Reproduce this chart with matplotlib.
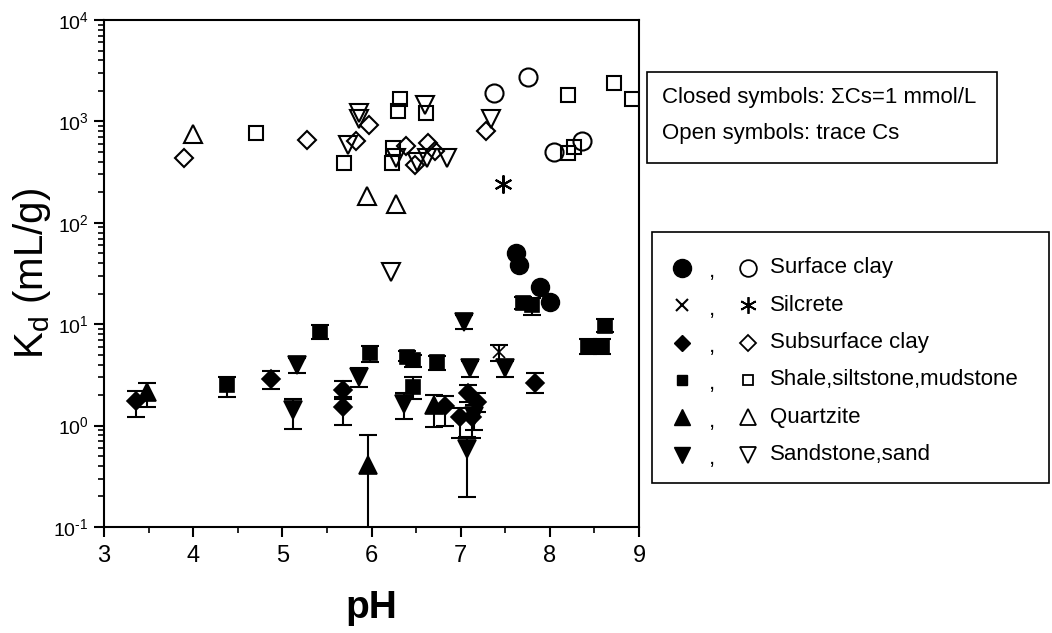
import matplotlib
matplotlib.use('Agg')
import numpy as np
import matplotlib.pyplot as plt
from matplotlib.ticker import LogLocator, FuncFormatter, MultipleLocator, NullFormatter
from matplotlib.patches import Rectangle

plt.rcParams['font.family'] = ['Liberation Sans', 'DejaVu Sans']
plt.rcParams['mathtext.default'] = 'regular'
plt.rcParams['axes.unicode_minus'] = False

# ---------------- data (pH, Kd, lower, upper) ----------------
# closed symbols: sum Cs = 1 mmol/L
surf_c_x = [7.62, 7.65, 7.89, 8.00]
surf_c_y = [50, 38, 23.5, 16.5]

silc_c_x = [7.43]
silc_c_y = [5.3]
silc_c_lo = [4.3]
silc_c_hi = [6.3]

subs_c_x = [3.36, 4.87, 5.68, 5.68, 6.82, 7.08, 7.18, 6.99, 7.13, 7.83]
subs_c_y = [1.75, 2.88, 2.24, 1.52, 1.55, 2.10, 1.70, 1.22, 1.22, 2.65]
subs_c_lo = [1.22, 2.30, 1.85, 1.01, 1.00, 1.70, 1.35, 0.75, 0.75, 2.10]
subs_c_hi = [2.19, 3.43, 2.75, 1.90, 1.95, 2.50, 2.10, 1.50, 1.50, 3.30]

shale_c_x = [4.38, 5.42, 5.98, 6.40, 6.46, 6.47, 6.73, 7.70, 7.80, 8.43, 8.59, 8.62]
shale_c_y = [2.51, 8.4, 5.2, 4.8, 4.4, 2.40, 4.24, 16.2, 15.5, 6.1, 6.1, 9.6]
shale_c_lo = [1.91, 7.1, 4.24, 4.3, 3.8, 1.83, 3.5, 14.0, 12.3, 5.1, 5.1, 8.3]
shale_c_hi = [3.01, 9.8, 6.06, 5.4, 5.0, 3.0, 4.9, 18.6, 18.0, 7.2, 7.2, 11.3]

quartz_c_x = [3.48, 5.96, 6.70]
quartz_c_y = [2.14, 0.41, 1.60]
quartz_c_lo = [1.52, 0.01, 0.97]
quartz_c_hi = [2.63, 0.81, 2.00]

sand_c_x = [5.16, 5.12, 5.86, 6.36, 7.04, 7.10, 7.50, 7.07, 7.15]
sand_c_y = [3.96, 1.43, 3.02, 1.63, 10.5, 3.70, 3.70, 0.59, 1.25]
sand_c_lo = [3.30, 0.925, 2.40, 1.16, 8.9, 3.02, 3.02, 0.198, 0.90]
sand_c_hi = [4.64, 1.83, 3.70, 2.10, 12.3, 4.34, 4.34, 0.78, 1.60]

# open symbols: trace Cs
surf_o_x = [7.37, 7.76, 8.05, 8.36]
surf_o_y = [1900, 2750, 500, 640]

silc_o_x = [7.47]
silc_o_y = [240]

subs_o_x = [3.90, 5.28, 5.97, 5.83, 6.39, 6.63, 6.71, 6.49, 7.28]
subs_o_y = [440, 660, 920, 640, 570, 610, 510, 372, 800]

shale_o_x = [4.70, 5.69, 6.24, 6.23, 6.32, 6.30, 6.61, 8.20, 8.72, 8.92, 8.20, 8.27]
shale_o_y = [770, 390, 547, 390, 1660, 1270, 1210, 1820, 2390, 1660, 487, 560]

quartz_o_x = [4.00, 5.95, 6.27]
quartz_o_y = [750, 184, 153]

sand_o_x = [5.86, 5.86, 5.74, 6.60, 7.34, 6.28, 6.51, 6.62, 6.85, 6.22]
sand_o_y = [1210, 1057, 585, 1450, 1057, 435, 398, 435, 435, 33]

legend_labels = ['Surface clay', 'Silcrete', 'Subsurface clay',
                 'Shale,siltstone,mudstone', 'Quartzite', 'Sandstone,sand']
note_lines = ['Closed symbols: \u03a3Cs=1 mmol/L', 'Open symbols: trace Cs']

# ---------------- figure ----------------
W, H = 1052, 633
fig = plt.figure(figsize=(W / 100, H / 100), dpi=100)
ax = fig.add_axes([104 / W, 1 - 527 / H, (639 - 104) / W, (527 - 20) / H])

ASTER = (6, 2, 0)
styles = {
    'surf': dict(marker='o', ms=13),
    'silc_c': dict(marker='x', ms=9),
    'silc_o': dict(marker=ASTER, ms=13),
    'subs': dict(marker='D', ms=9.5),
    'shale': dict(marker='s', ms=9.5),
    'quartz': dict(marker='^', ms=13),
    'sand': dict(marker='v', ms=13),
}

def closed_eb(x, y, lo, hi, st):
    y = np.array(y); lo = np.array(lo); hi = np.array(hi)
    ax.errorbar(x, y, yerr=[y - lo, hi - y], fmt='none', ecolor='black',
                elinewidth=1.5, capsize=6.5, capthick=1.5, zorder=2)
    ax.plot(x, y, ls='none', color='black', mfc='black', mec='black',
            mew=1.2, zorder=3, **st)

def open_pts(x, y, st):
    ax.plot(x, y, ls='none', mfc='none', mec='black', mew=1.5, zorder=4, **st)

ax.plot(surf_c_x, surf_c_y, ls='none', mfc='black', mec='black', zorder=3, **styles['surf'])
closed_eb(silc_c_x, silc_c_y, silc_c_lo, silc_c_hi, styles['silc_c'])
closed_eb(subs_c_x, subs_c_y, subs_c_lo, subs_c_hi, styles['subs'])
closed_eb(shale_c_x, shale_c_y, shale_c_lo, shale_c_hi, styles['shale'])
closed_eb(quartz_c_x, quartz_c_y, quartz_c_lo, quartz_c_hi, styles['quartz'])
closed_eb(sand_c_x, sand_c_y, sand_c_lo, sand_c_hi, styles['sand'])

open_pts(surf_o_x, surf_o_y, styles['surf'])
open_pts(silc_o_x, silc_o_y, styles['silc_o'])
open_pts(subs_o_x, subs_o_y, styles['subs'])
open_pts(shale_o_x, shale_o_y, styles['shale'])
open_pts(quartz_o_x, quartz_o_y, styles['quartz'])
open_pts(sand_o_x, sand_o_y, styles['sand'])

ax.set_xlim(3, 9)
ax.set_yscale('log')
ax.set_ylim(0.1, 1e4)
ax.xaxis.set_major_locator(MultipleLocator(1))
ax.xaxis.set_minor_locator(MultipleLocator(0.5))
ax.yaxis.set_major_locator(LogLocator(base=10, numticks=10))
ax.yaxis.set_minor_locator(LogLocator(base=10, subs=np.arange(2, 10), numticks=20))
ax.yaxis.set_minor_formatter(NullFormatter())

def exp_fmt(v, p):
    e = int(round(np.log10(v)))
    s = str(e).replace('-', '\u2010')
    return r'$10^{%s}$' % s

ax.yaxis.set_major_formatter(FuncFormatter(exp_fmt))
ax.tick_params(axis='both', which='major', direction='out', length=7, width=1.5)
ax.tick_params(axis='both', which='minor', direction='out', length=4, width=1.2)
ax.tick_params(axis='x', labelsize=17, pad=6)
ax.tick_params(axis='y', labelsize=14, pad=4)
for s in ax.spines.values():
    s.set_linewidth(1.5)

ax.set_xlabel('pH', fontsize=28, fontweight='bold')
ax.xaxis.set_label_coords(0.5, -0.125)
ax.set_ylabel(r'K$_{d}$ (mL/g)', fontsize=29)
ax.yaxis.set_label_coords(-0.095, 0.5)

# ---------------- legend boxes (pixel overlay) ----------------
lax = fig.add_axes([0, 0, 1, 1])
lax.set_xlim(0, W)
lax.set_ylim(H, 0)
lax.axis('off')

lax.add_patch(Rectangle((647, 72), 350, 91, fill=False, lw=1.2, ec='black'))
for i, t in enumerate(note_lines):
    lax.text(662, 98 + 35 * i, t, fontsize=16, va='center', ha='left')

lax.add_patch(Rectangle((652, 232), 397, 251, fill=False, lw=1.2, ec='black'))
closed_leg = [dict(marker='o', ms=13), dict(marker='x', ms=8, mew=1.5),
              dict(marker='D', ms=8), dict(marker='s', ms=7.5),
              dict(marker='^', ms=12), dict(marker='v', ms=12)]
open_leg = [dict(marker='o', ms=12), dict(marker=ASTER, ms=12),
            dict(marker='D', ms=8), dict(marker='s', ms=7.5),
            dict(marker='^', ms=12), dict(marker='v', ms=12)]
for i, lab in enumerate(legend_labels):
    yy = 268 + 37.3 * i
    lax.plot([682], [yy], ls='none', mfc='black', mec='black', **closed_leg[i])
    lax.text(712, yy + 4, ',', fontsize=16, va='center', ha='center')
    lax.plot([748], [yy], ls='none', mfc='none', mec='black', mew=1.3, **open_leg[i])
    lax.text(770, yy, lab, fontsize=16, va='center', ha='left')

fig.savefig('out.png', dpi=100)
